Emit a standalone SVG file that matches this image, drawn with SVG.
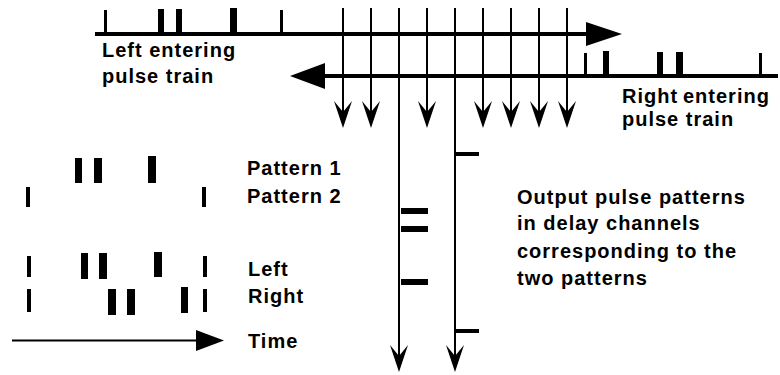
<svg xmlns="http://www.w3.org/2000/svg" width="780" height="375" viewBox="0 0 780 375">
  <style>
    .lbl { font-family: "Liberation Sans", Arial, Helvetica, sans-serif; font-size: 20px; font-weight: bold; letter-spacing: 1px; fill: #000; }
    .rail { stroke: #000; stroke-width: 4; fill: none; }
    .wire { stroke: #000; stroke-width: 2; fill: none; }
    .pulse { fill: #000; }
    .head { fill: #000; }
  </style>
  <defs>
    <!-- barbed downward arrowhead, tip at origin -->
    <path id="down" d="M0,0 L-9,-27 L0,-16 L9,-27 Z"/>
  </defs>

  <!-- left entering pulse train, travelling right -->
  <g id="left-train">
    <line class="rail" x1="95" y1="34" x2="590" y2="34"/>
    <path class="head" d="M622,34 L586,22 L586,46 Z"/>
    <rect class="pulse" x="104" y="10" width="3" height="24"/>
    <rect class="pulse" x="158" y="9" width="6" height="25"/>
    <rect class="pulse" x="176" y="9" width="6" height="25"/>
    <rect class="pulse" x="230" y="8" width="7" height="26"/>
    <rect class="pulse" x="280" y="10" width="3" height="24"/>
    <text class="lbl" x="102" y="57">Left entering</text>
    <text class="lbl" x="102" y="83">pulse train</text>
  </g>

  <!-- right entering pulse train, travelling left -->
  <g id="right-train">
    <line class="rail" x1="322" y1="76" x2="778" y2="76"/>
    <path class="head" d="M290,76 L325,63 L325,89 Z"/>
    <rect class="pulse" x="584" y="53" width="3" height="23"/>
    <rect class="pulse" x="603" y="51" width="6" height="25"/>
    <rect class="pulse" x="657" y="52" width="6" height="24"/>
    <rect class="pulse" x="676" y="52" width="7" height="24"/>
    <rect class="pulse" x="759" y="53" width="3" height="23"/>
    <text class="lbl" x="622" y="103">Right<tspan x="683">entering</tspan></text>
    <text class="lbl" x="622" y="126">pulse train</text>
  </g>

  <!-- delay channels tapping the two rails -->
  <g id="delay-lines">
    <line class="wire" x1="343" y1="8" x2="343" y2="120"/>
    <use href="#down" x="343" y="128"/>
    <line class="wire" x1="371" y1="8" x2="371" y2="120"/>
    <use href="#down" x="371" y="128"/>
    <line class="wire" x1="399" y1="8" x2="399" y2="364"/>
    <use href="#down" x="399" y="372"/>
    <line class="wire" x1="427" y1="8" x2="427" y2="120"/>
    <use href="#down" x="427" y="128"/>
    <line class="wire" x1="455" y1="8" x2="455" y2="364"/>
    <use href="#down" x="455" y="372"/>
    <line class="wire" x1="483" y1="8" x2="483" y2="120"/>
    <use href="#down" x="483" y="128"/>
    <line class="wire" x1="511" y1="8" x2="511" y2="120"/>
    <use href="#down" x="511" y="128"/>
    <line class="wire" x1="539" y1="8" x2="539" y2="120"/>
    <use href="#down" x="539" y="128"/>
    <line class="wire" x1="567" y1="8" x2="567" y2="120"/>
    <use href="#down" x="567" y="128"/>
  </g>

  <!-- output pulses on the two long channels -->
  <g id="outputs">
    <rect class="pulse" x="456" y="152" width="23" height="4"/>
    <rect class="pulse" x="401" y="208" width="27" height="6"/>
    <rect class="pulse" x="401" y="226" width="27" height="6"/>
    <rect class="pulse" x="401" y="279" width="27" height="6"/>
    <rect class="pulse" x="456" y="329" width="23" height="4"/>
    <text class="lbl" x="517" y="204">Output pulse patterns</text>
    <text class="lbl" x="517" y="230">in delay channels</text>
    <text class="lbl" x="517" y="258">corresponding to the</text>
    <text class="lbl" x="517" y="285">two patterns</text>
  </g>

  <!-- reference patterns -->
  <g id="patterns">
    <rect class="pulse" x="75" y="158" width="7" height="25"/>
    <rect class="pulse" x="94" y="158" width="8" height="25"/>
    <rect class="pulse" x="148" y="156" width="8" height="27"/>
    <rect class="pulse" x="26" y="187" width="4" height="20"/>
    <rect class="pulse" x="202" y="187" width="4" height="20"/>
    <text class="lbl" x="247" y="175">Pattern 1</text>
    <text class="lbl" x="247" y="203">Pattern 2</text>
  </g>

  <!-- left / right channel timing -->
  <g id="timing">
    <rect class="pulse" x="27" y="256" width="4" height="21"/>
    <rect class="pulse" x="81" y="253" width="7" height="26"/>
    <rect class="pulse" x="99" y="253" width="8" height="26"/>
    <rect class="pulse" x="154" y="252" width="8" height="25"/>
    <rect class="pulse" x="203" y="256" width="4" height="21"/>
    <rect class="pulse" x="27" y="289" width="4" height="23"/>
    <rect class="pulse" x="108" y="289" width="8" height="26"/>
    <rect class="pulse" x="127" y="289" width="8" height="26"/>
    <rect class="pulse" x="181" y="287" width="7" height="26"/>
    <rect class="pulse" x="203" y="289" width="4" height="23"/>
    <text class="lbl" x="248" y="276">Left</text>
    <text class="lbl" x="248" y="303">Right</text>
  </g>

  <!-- time axis -->
  <g id="time-axis">
    <line class="wire" x1="12" y1="340.5" x2="198" y2="340.5"/>
    <path class="head" d="M224,340.5 L196,330 L196,351 Z"/>
    <text class="lbl" x="248" y="348">Time</text>
  </g>
</svg>
